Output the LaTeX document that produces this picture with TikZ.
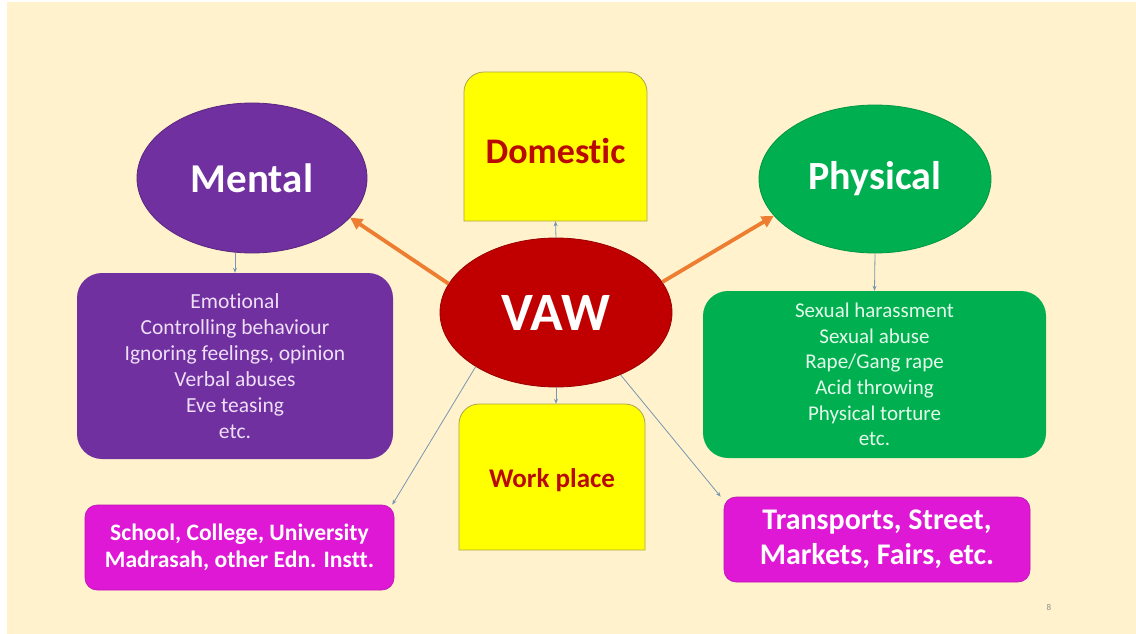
\documentclass[tikz,border=0pt]{standalone}
\usepackage{fontspec}
\setmainfont{Carlito}[Ligatures=NoCommon]
\usetikzlibrary{shapes.geometric,arrows.meta}

\definecolor{cream}{RGB}{255,242,204}
\definecolor{mpurple}{RGB}{112,48,160}
\definecolor{pgreen}{RGB}{0,176,80}
\definecolor{vred}{RGB}{192,0,0}
\definecolor{yel}{RGB}{255,255,0}
\definecolor{yelline}{RGB}{170,165,80}
\definecolor{pink}{RGB}{222,24,212}
\definecolor{domtext}{RGB}{185,10,0}
\definecolor{orangearrow}{RGB}{237,125,49}
\definecolor{thinarrow}{RGB}{120,150,180}
\definecolor{lilac}{RGB}{238,222,248}
\definecolor{mint}{RGB}{228,250,234}

\begin{document}
\begin{tikzpicture}[x=1pt,y=-1pt,
  bubble/.style={ellipse,inner sep=0pt,text=white,line width=0.8pt},
  listbox/.style={rectangle,rounded corners=25pt,inner sep=0pt,align=center,
    font=\fontsize{21.5}{26}\selectfont},
  placebox/.style={rectangle,rounded corners=12pt,inner sep=0pt,align=center,
    fill=pink,draw=pink!85!black,line width=0.6pt,text=white},
  yelshape/.style={fill=yel,draw=yelline,line width=0.8pt},
  yeltext/.style={text=domtext,font=\bfseries},
  thick arrow/.style={draw=orangearrow,line width=3.8pt,
    -{Triangle[length=12pt,width=12pt]}},
  thin arrow/.style={draw=thinarrow,line width=0.8pt,
    -{Stealth[length=5pt,width=4pt]}}
]
\useasboundingbox (0,0) rectangle (1136,634);
\fill[white] (0,0) rectangle (1136,634);
\fill[cream] (7,2) rectangle (1136,634);

% top and bottom yellow boxes, rounded only at the top
\draw[yelshape] (464,221) -- (464,92) .. controls (464,81) and (473,72) .. (484,72)
  -- (627,72) .. controls (638,72) and (647,81) .. (647,92) -- (647,221) -- cycle;
\draw[yelshape] (459,550) -- (459,424) .. controls (459,413) and (468,404) .. (479,404)
  -- (625,404) .. controls (636,404) and (645,413) .. (645,424) -- (645,550) -- cycle;
\node[minimum width=183pt,minimum height=149pt,inner sep=0pt] (dom) at (555.5,146.5) {};
\node[minimum width=186pt,minimum height=146pt,inner sep=0pt] (wp) at (552,477) {};
\node[yeltext,font=\fontsize{36}{42}\selectfont\bfseries] (domlbl) at (555.5,151) {Domestic};
\node[yeltext,font=\fontsize{27}{32}\selectfont\bfseries] (wplbl) at (552,480) {Work place};

% category ellipses
\node[bubble,fill=mpurple,draw=mpurple!80!black,minimum width=230pt,minimum height=150pt,
  font=\fontsize{41}{48}\selectfont\bfseries] (ment) at (252,178) {Mental};
\node[bubble,fill=pgreen,draw=pgreen!85!black,minimum width=232pt,minimum height=148pt,
  font=\fontsize{40}{48}\selectfont\bfseries] (phys) at (875,179) {Physical};
\node[bubble,fill=vred,draw=vred!80!black,minimum width=232pt,minimum height=149pt,
  font=\fontsize{54}{64}\selectfont\bfseries] (vaw) at (556,312.5) {VAW};

% detail boxes
\node[listbox,fill=mpurple,text=lilac,minimum width=316pt,minimum height=186pt] (mbox) at (235,366)
  {Emotional\\Controlling behaviour\\Ignoring feelings, opinion\\Verbal abuses\\Eve teasing\\etc.};
\node[listbox,fill=pgreen,text=mint,minimum width=343pt,minimum height=167pt,
  font=\fontsize{21}{25.7}\selectfont] (gbox) at (874.5,374.5)
  {Sexual harassment\\Sexual abuse\\Rape/Gang rape\\Acid throwing\\Physical torture\\etc.};

\node[placebox,minimum width=309pt,minimum height=85pt,
  font=\fontsize{23.6}{26.5}\selectfont\bfseries] (lp) at (239.5,547.5)
  {School, College, University\\Madrasah, other Edn. Instt.};
\node[placebox,minimum width=306pt,minimum height=85pt,
  font=\fontsize{30}{35}\selectfont\bfseries] (tr) at (877,539.5)
  {Transports, Street,\\Markets, Fairs, etc.};

% connectors
\draw[thick arrow] (vaw.165) -- (ment.338);
\draw[thick arrow] (vaw.16) -- (phys.200);
\draw[thin arrow] (ment.south -| mbox.north) -- (mbox.north);
\draw[thin arrow] (phys.south) -- (gbox.north);
\draw[thin arrow] (vaw.north) -- (dom.south);
\draw[thin arrow] (vaw.south) -- (vaw.south |- wp.north);
\draw[thin arrow] (vaw.214) -- ([xshift=-2pt]lp.north east);
\draw[thin arrow] (vaw.316) -- ([xshift=-3pt]tr.north west);

% slide number
\node[text=black!45,font=\fontsize{9}{10}\selectfont] (pnum) at (1049,607) {8};
\end{tikzpicture}
\end{document}
